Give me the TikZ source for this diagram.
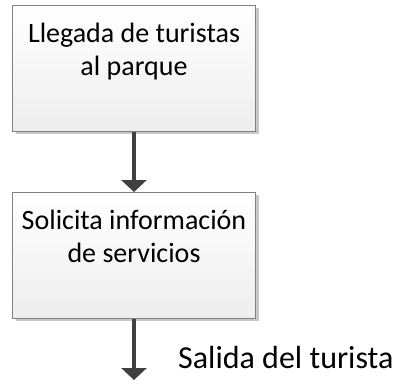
\documentclass[tikz,border=0pt]{standalone}
\usepackage{fontspec}
\setmainfont{Carlito}
\usetikzlibrary{arrows.meta}
\usetikzlibrary{shadows}
\definecolor{bordegris}{RGB}{128,128,128}
\definecolor{flechagris}{RGB}{64,64,64}
\definecolor{sombragris}{RGB}{200,200,200}

\tikzset{
  pasobox/.style={rectangle, draw=bordegris, line width=0.8pt,
    top color=white, bottom color=black!7,
    drop shadow={shadow xshift=3pt, shadow yshift=-3pt, fill=sombragris, opacity=1},
    minimum width=243pt, text width=239pt, align=flush center, anchor=north,
    inner xsep=2pt, inner ysep=13pt, text height=24pt, text depth=76pt,
    font=\fontsize{28}{33}\selectfont},
  flecha/.style={draw=flechagris, line width=4.5pt,
    -{Triangle[width=25pt,length=12pt]}}
}

\begin{document}
\begin{tikzpicture}[x=1pt, y=-1pt]
\useasboundingbox (0,0) rectangle (401,383);

% Cajas del proceso
\node[pasobox] (llegada) at (134,5) {Llegada de turistas\\al parque};
\node[pasobox] (solicita) at (134,192) {Solicita información\\de servicios};

% Salida
\coordinate (fin) at (134,380);

% Flechas
\draw[flecha] (llegada.south) -- (solicita.north);
\draw[flecha] (solicita.south) -- (fin);

\node[anchor=base west, inner sep=0pt, font=\fontsize{32}{38}\selectfont] (salida) at (178,368) {Salida del turista};

\end{tikzpicture}
\end{document}
